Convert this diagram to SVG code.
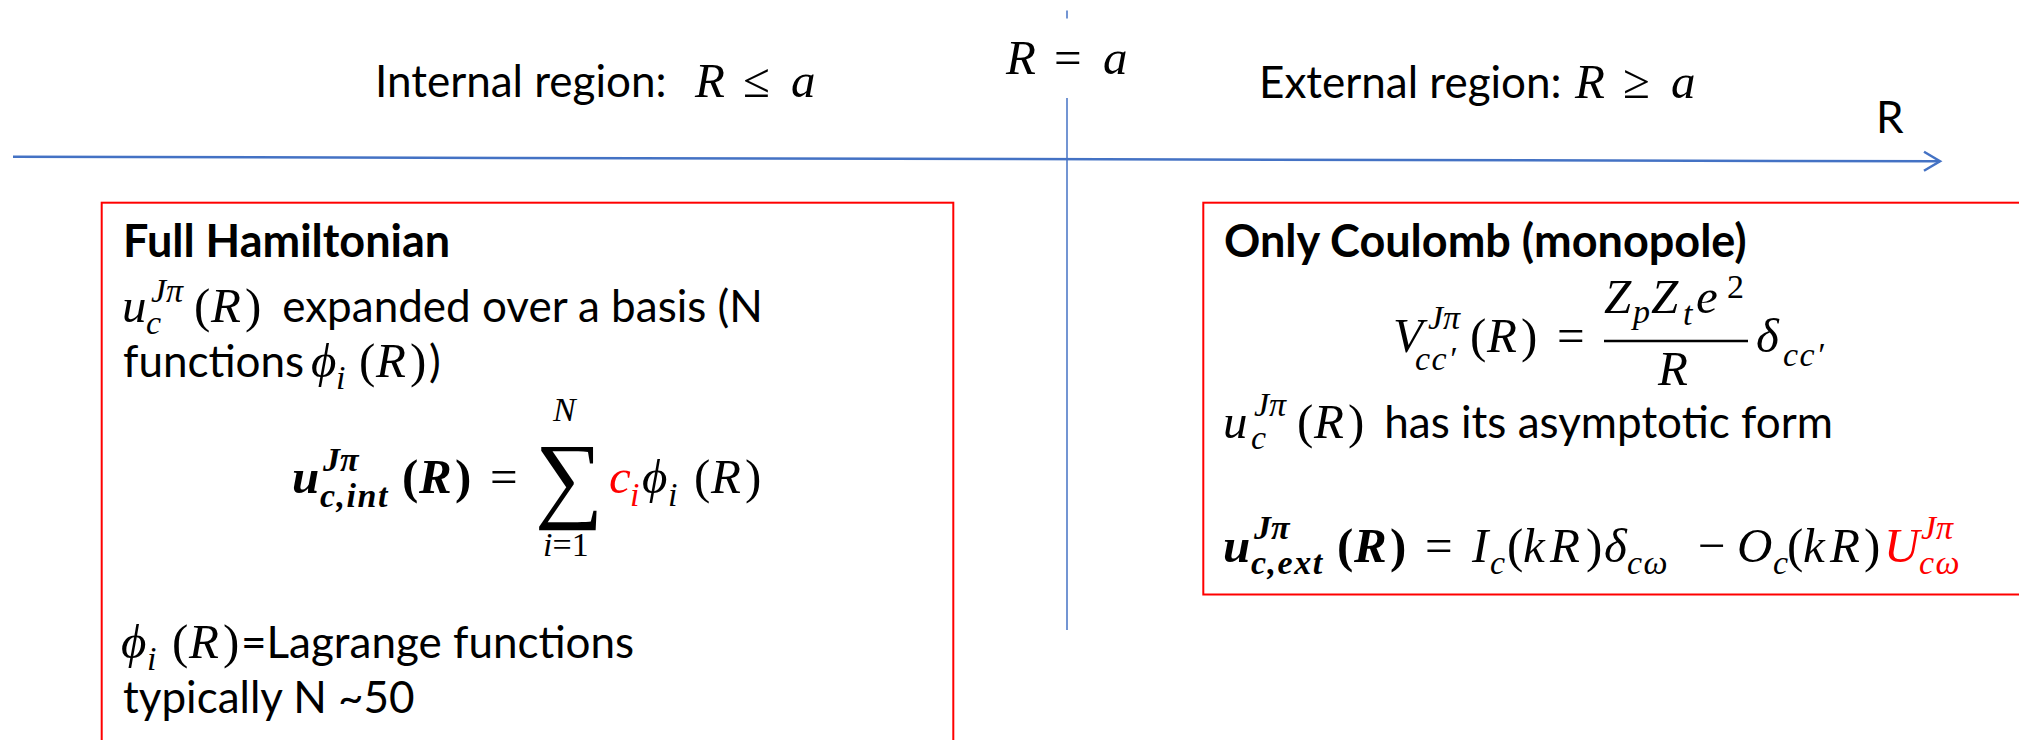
<svg xmlns="http://www.w3.org/2000/svg" width="2019" height="740" viewBox="0 0 2019 740">
<style>
.t{font-family:Lato,"Liberation Sans",sans-serif;font-size:44px;fill:#000}
.b{font-weight:bold;font-size:45px}
.m{font-family:"Liberation Serif","DejaVu Serif",serif;font-size:49px;font-style:italic;fill:#000}
.mu{font-family:"Liberation Serif","DejaVu Serif",serif;font-size:49px;font-style:normal;fill:#000}
.s{font-size:34px}
.ls{letter-spacing:1.5px}
.bb{font-weight:bold}
.red{fill:#FF0000}
.box{fill:none;stroke:#FF0000;stroke-width:2}
.axis{stroke:#4472C4;stroke-width:2.5;fill:none}
.bound{stroke:#4472C4;stroke-width:1.5;fill:none}
.bar{stroke:#000;stroke-width:2.5}
</style>
<defs>
<marker id="chev" markerUnits="userSpaceOnUse" markerWidth="22" markerHeight="24" refX="18" refY="11" orient="auto">
<path d="M2,1.5 L18,11 L2,20.5" fill="none" stroke="#4472C4" stroke-width="2.5"/>
</marker>
</defs>
<rect width="2019" height="740" fill="#fff"/>

<g id="connectors">
<line class="axis" x1="13" y1="156.7" x2="1940" y2="161.3" marker-end="url(#chev)"/>
<line class="bound" x1="1067" y1="10.5" x2="1067" y2="18.5"/>
<line class="bound" x1="1067" y1="98" x2="1067" y2="630"/>
</g>

<g id="label-internal">
<text y="97"><tspan class="t" x="375">Internal region:  </tspan><tspan class="m" x="695">R </tspan><tspan class="mu" x="743">≤ </tspan><tspan class="m" x="791">a</tspan></text>
</g>
<g id="label-boundary">
<text y="74"><tspan class="m" x="1006">R </tspan><tspan class="mu" x="1054">= </tspan><tspan class="m" x="1103">a</tspan></text>
</g>
<g id="label-external">
<text y="98"><tspan class="t" x="1259">External region: </tspan><tspan class="m" x="1575">R </tspan><tspan class="mu" x="1623">≥ </tspan><tspan class="m" x="1671">a</tspan></text>
</g>
<g id="label-axis">
<text class="t" x="1876" y="133">R</text>
</g>

<g id="internal-box">
<rect class="box" x="101.7" y="202.7" width="851.6" height="560"/>
<text class="t b" x="123" y="257">Full Hamiltonian</text>
<text y="322"><tspan class="m" x="122">u</tspan><tspan class="m s" x="151" y="302">Jπ</tspan><tspan class="m s" x="146" y="334">c</tspan><tspan class="mu" x="194" y="322">(</tspan><tspan class="m" x="211">R</tspan><tspan class="mu" x="245">)</tspan><tspan class="t" x="271"> expanded over a basis (N</tspan></text>
<text y="377"><tspan class="t" x="123">functions </tspan><tspan class="m" x="311">ϕ</tspan><tspan class="m s" x="336" y="389">i</tspan><tspan class="mu" x="359" y="377">(</tspan><tspan class="m" x="376">R</tspan><tspan class="mu" x="410">)</tspan><tspan class="t" x="429">)</tspan></text>
<text y="493"><tspan class="m bb" x="292">u</tspan><tspan class="m s bb" x="323" y="471">Jπ</tspan><tspan class="m s bb ls" x="320" y="507">c,int</tspan><tspan class="mu bb" x="402" y="493">(</tspan><tspan class="m bb" x="419">R</tspan><tspan class="mu bb" x="455">) </tspan><tspan class="mu" x="490">= </tspan></text>
<text class="mu" x="535" y="510" style="font-size:96px">∑</text>
<text class="m s" x="553" y="421">N</text>
<text y="556"><tspan class="m s" x="543">i</tspan><tspan class="mu s">=1</tspan></text>
<text y="493"><tspan class="m red" x="609">c</tspan><tspan class="m s red" x="630" y="506">i</tspan><tspan class="m" x="642" y="493">ϕ</tspan><tspan class="m s" x="668" y="506">i</tspan><tspan class="mu" x="694" y="493">(</tspan><tspan class="m" x="711">R</tspan><tspan class="mu" x="745">)</tspan></text>
<text y="658"><tspan class="m" x="121">ϕ</tspan><tspan class="m s" x="147" y="670">i</tspan><tspan class="mu" x="172" y="658">(</tspan><tspan class="m" x="189">R</tspan><tspan class="mu" x="223">)</tspan><tspan class="t" x="241">=Lagrange functions</tspan></text>
<text class="t" x="123" y="713">typically N ~50</text>
</g>

<g id="external-box">
<rect class="box" x="1203.3" y="202.7" width="830" height="391.8"/>
<text class="t b" x="1224" y="257">Only Coulomb (monopole)</text>
<text y="352"><tspan class="m" x="1393">V</tspan><tspan class="m s" x="1428" y="329">Jπ</tspan><tspan class="m s ls" x="1415" y="370">cc′</tspan><tspan class="mu" x="1470" y="352">(</tspan><tspan class="m" x="1487">R</tspan><tspan class="mu" x="1521">) </tspan><tspan class="mu" x="1557">=</tspan></text>
<line class="bar" x1="1604" y1="341" x2="1748" y2="341"/>
<text y="313"><tspan class="m" x="1604">Z</tspan><tspan class="m s" x="1633" y="323">p</tspan><tspan class="m" x="1651" y="313">Z</tspan><tspan class="m s" x="1683" y="325">t</tspan><tspan class="m" x="1696" y="313">e</tspan><tspan class="mu s" x="1727" y="298">2</tspan></text>
<text class="m" x="1658" y="385">R</text>
<text y="352"><tspan class="m" x="1756">δ</tspan><tspan class="m s ls" x="1783" y="366">cc′</tspan></text>
<text y="438"><tspan class="m" x="1223">u</tspan><tspan class="m s" x="1254" y="416">Jπ</tspan><tspan class="m s" x="1251" y="449">c</tspan><tspan class="mu" x="1297" y="438">(</tspan><tspan class="m" x="1314">R</tspan><tspan class="mu" x="1348">)</tspan><tspan class="t" x="1373"> has its asymptotic form</tspan></text>
<text y="562"><tspan class="m bb" x="1223">u</tspan><tspan class="m s bb" x="1254" y="539">Jπ</tspan><tspan class="m s bb ls" x="1251" y="574">c,ext</tspan><tspan class="mu bb" x="1337" y="562">(</tspan><tspan class="m bb" x="1354">R</tspan><tspan class="mu bb" x="1390">) </tspan><tspan class="mu" x="1425">= </tspan><tspan class="m" x="1472">I</tspan><tspan class="m s" x="1490" y="574">c</tspan><tspan class="mu" x="1507" y="562">(</tspan><tspan class="m" x="1523">k</tspan><tspan class="m" x="1550">R</tspan><tspan class="mu" x="1586">)</tspan><tspan class="m" x="1604">δ</tspan><tspan class="m s ls" x="1627" y="574">cω </tspan><tspan class="mu" x="1698" y="562">− </tspan><tspan class="m" x="1737">O</tspan><tspan class="m s" x="1773" y="574">c</tspan><tspan class="mu" x="1787" y="562">(</tspan><tspan class="m" x="1803">k</tspan><tspan class="m" x="1830">R</tspan><tspan class="mu" x="1864">)</tspan><tspan class="m red" x="1884">U</tspan><tspan class="m s red" x="1921" y="539">Jπ</tspan><tspan class="m s red ls" x="1919" y="574">cω</tspan></text>
</g>
</svg>
